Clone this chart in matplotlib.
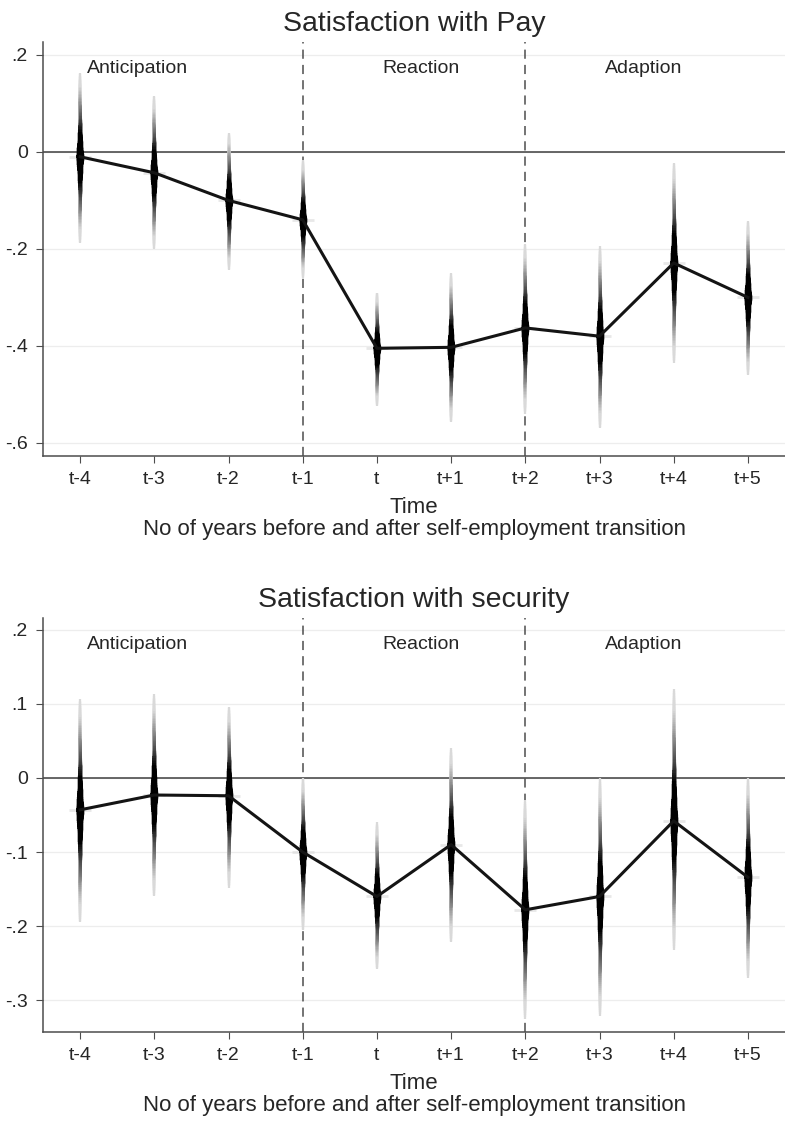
import numpy as np
import matplotlib
matplotlib.use("Agg")
import matplotlib.pyplot as plt
from matplotlib.collections import LineCollection

plt.rcParams['font.family'] = ['Liberation Sans', 'DejaVu Sans']

periods = ["t-4", "t-3", "t-2", "t-1", "t", "t+1", "t+2", "t+3", "t+4", "t+5"]

pay_coef = [-0.010, -0.043, -0.100, -0.140, -0.405, -0.403, -0.363, -0.380, -0.229, -0.300]
pay_lo = [-0.188, -0.200, -0.243, -0.260, -0.524, -0.557, -0.540, -0.570, -0.435, -0.460]
pay_hi = [0.163, 0.115, 0.040, -0.017, -0.290, -0.250, -0.190, -0.194, -0.022, -0.142]

sec_coef = [-0.043, -0.023, -0.024, -0.100, -0.160, -0.090, -0.178, -0.160, -0.058, -0.134]
sec_lo = [-0.195, -0.160, -0.148, -0.205, -0.258, -0.222, -0.325, -0.322, -0.232, -0.270]
sec_hi = [0.107, 0.113, 0.096, 0.000, -0.060, 0.040, -0.030, 0.000, 0.120, 0.000]

phases = ["Anticipation", "Reaction", "Adaption"]
phase_x = [0.77, 4.6, 7.6]
breaks = [3, 6]


def fmt(v):
    if abs(v) < 1e-9:
        return "0"
    s = "%g" % v
    return s.replace("0.", ".")


def spindle(ax, x, c, lo, hi, n=60):
    # nested segments, outermost (thin, light) first so the darker core sits on top
    segs, cols, widths = [], [], []
    for k in range(n, 0, -1):
        f = k / n
        g = 0.85 * np.clip((f - 0.3) / 0.55, 0, 1) ** 0.9
        w = 1.6 + 4.2 * (1 - f) ** 3
        for end in (lo, hi):
            segs.append([(x, c), (x, c + f * (end - c))])
            cols.append((g, g, g))
            widths.append(w)
    lc = LineCollection(segs, colors=cols, linewidths=widths, capstyle='butt', zorder=3)
    ax.add_collection(lc)


def panel(ax, title, coef, lo, hi, ylim, yticks):
    x = np.arange(len(periods))
    ax.set_xlim(-0.5, 9.5)
    ax.set_ylim(*ylim)
    for t in yticks:
        ax.axhline(t, color='0.93', lw=0.9, zorder=0)
    ax.axhline(0, color='0.3', lw=1.2, zorder=1)
    for b in breaks:
        ax.axvline(b, color='0.3', lw=1.1, dashes=(6, 4), zorder=1)
    for i in x:
        spindle(ax, i, coef[i], lo[i], hi[i])
    ax.plot(x, coef, ls='none', marker='_', ms=16, mew=2, color='0.85', alpha=0.6, zorder=2)
    ax.plot(x, coef, color='0.08', lw=2.2, zorder=4)
    for name, px in zip(phases, phase_x):
        ax.text(px, 0.935, name, transform=ax.get_xaxis_transform(),
                ha='center', va='center', fontsize=14, color='0.15')
    ax.set_xticks(x)
    ax.set_xticklabels(periods)
    ax.set_yticks(yticks)
    ax.set_yticklabels([fmt(t) for t in yticks])
    ax.tick_params(axis='both', length=5, color='0.3', labelsize=14, labelcolor='0.15', pad=6)
    for s in ['top', 'right']:
        ax.spines[s].set_visible(False)
    for s in ['left', 'bottom']:
        ax.spines[s].set_color('0.3')
        ax.spines[s].set_linewidth(1.1)
    ax.set_xlabel("Time\nNo of years before and after self-employment transition",
                  fontsize=16, color='0.15', labelpad=6, linespacing=1.08)
    ax.set_title(title, fontsize=20.5, color='0.15', pad=8)


fig = plt.figure(figsize=(7.85, 11.23), dpi=100)
ax1 = fig.add_axes([0.0548, 0.594, 0.9452, 0.3687])
ax2 = fig.add_axes([0.0548, 0.081, 0.9452, 0.3687])

panel(ax1, "Satisfaction with Pay", pay_coef, pay_lo, pay_hi,
      (-0.627, 0.227), [0.2, 0, -0.2, -0.4, -0.6])
panel(ax2, "Satisfaction with security", sec_coef, sec_lo, sec_hi,
      (-0.343, 0.216), [0.2, 0.1, 0, -0.1, -0.2, -0.3])

fig.savefig("out.png", dpi=100)
